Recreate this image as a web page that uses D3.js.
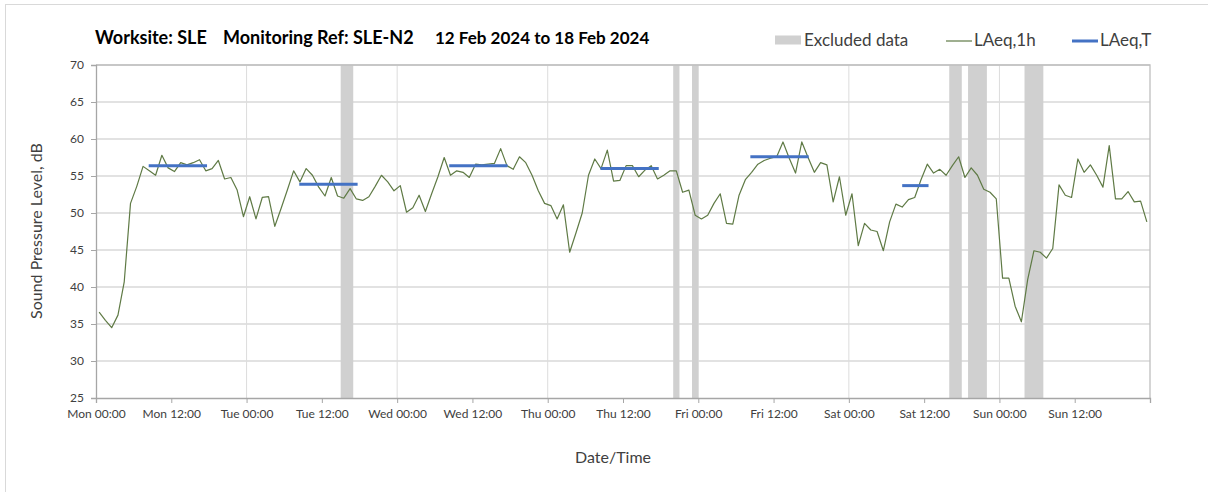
<!DOCTYPE html>
<html>
<head>
<meta charset="utf-8">
<script src="https://cdn.jsdelivr.net/npm/d3@7"></script>
<style>
	body { margin: 0; background: #fff; }
	svg text { font-family: Lato, "Open Sans", sans-serif; }
</style>
</head>
<body>
<svg id="chart" width="1208" height="492"></svg>
<script>
"use strict";

// hourly LAeq,1h values, Mon 00:00 .. Sun 23:00 (each plotted mid-hour)
var laeq1h = [
	36.6, 35.5, 34.5, 36.2, 40.7, 51.3, 53.6, 56.3, 55.7, 55.1, 57.8, 56.1,
	55.6, 56.8, 56.5, 56.8, 57.2, 55.7, 56.0, 57.1, 54.6, 54.8, 53.1, 49.5,
	52.2, 49.2, 52.1, 52.2, 48.2, 50.6, 53.1, 55.7, 54.2, 56.0, 55.1, 53.5,
	52.3, 54.8, 52.3, 52.0, 53.3, 51.9, 51.7, 52.2, 53.6, 55.1, 54.2, 53.0,
	53.7, 50.1, 50.7, 52.4, 50.2, 52.6, 54.9, 57.5, 55.1, 55.7, 55.5, 54.8,
	56.6, 56.5, 56.6, 56.7, 58.7, 56.4, 55.9, 57.6, 56.8, 55.1, 53.0, 51.3,
	51.0, 49.2, 51.1, 44.7, 47.3, 50.0, 55.1, 57.3, 56.0, 58.5, 54.3, 54.4,
	56.4, 56.4, 54.9, 55.8, 56.4, 54.6, 55.1, 55.7, 55.7, 52.8, 53.1, 49.7,
	49.2, 49.7, 51.3, 52.6, 48.6, 48.5, 52.4, 54.5, 55.5, 56.6, 57.1, 57.4,
	57.6, 59.6, 57.4, 55.4, 59.6, 57.5, 55.5, 56.8, 56.5, 51.5, 54.9, 49.7,
	52.6, 45.6, 48.6, 47.7, 47.5, 44.9, 48.8, 51.2, 50.8, 51.8, 52.1, 54.5,
	56.6, 55.4, 55.9, 55.1, 56.4, 57.6, 54.8, 56.1, 55.1, 53.2, 52.8, 51.9,
	41.2, 41.2, 37.4, 35.3, 41.0, 44.9, 44.7, 43.9, 45.2, 53.8, 52.4, 52.1,
	57.3, 55.5, 56.5, 55.1, 53.5, 59.1, 51.9, 51.9, 52.9, 51.5, 51.6, 48.8
];

// LAeq,T daytime periods: start hour, end hour, level
var periodStart = [8.4, 32.4, 56.3, 80.4, 104.3, 128.5];
var periodEnd = [17.7, 41.7, 65.6, 89.7, 113.6, 132.7];
var periodLevel = [56.4, 53.9, 56.4, 56.0, 57.6, 53.7];

// excluded data windows (hours from Mon 00:00)
var excludedStart = [39, 92, 95, 136, 139, 148];
var excludedEnd = [41, 93, 96, 138, 142, 151];

var xTickLabels = [
	"Mon 00:00", "Mon 12:00", "Tue 00:00", "Tue 12:00", "Wed 00:00", "Wed 12:00",
	"Thu 00:00", "Thu 12:00", "Fri 00:00", "Fri 12:00", "Sat 00:00", "Sat 12:00",
	"Sun 00:00", "Sun 12:00"
];
var yTicks = [25, 30, 35, 40, 45, 50, 55, 60, 65, 70];

var svg = d3.select("#chart");

// outer frame
svg.append("rect")
	.attr("x", 5.5).attr("y", 4.5)
	.attr("width", 1210).attr("height", 500)
	.attr("fill", "none")
	.attr("stroke", "#d9d9d9");

var x = d3.scaleLinear().domain([0, 168]).range([96, 1150]);
var y = d3.scaleLinear().domain([25, 70]).range([398, 65]);

// horizontal gridlines
svg.append("g").selectAll("line")
	.data(yTicks.slice(1))
	.join("line")
	.attr("x1", x(0)).attr("x2", x(168))
	.attr("y1", d => y(d)).attr("y2", d => y(d))
	.attr("stroke", "#d9d9d9")
	.attr("stroke-width", 1.3);

// vertical day gridlines
svg.append("g").selectAll("line")
	.data([24, 48, 72, 96, 120, 144])
	.join("line")
	.attr("x1", d => x(d)).attr("x2", d => x(d))
	.attr("y1", y(70)).attr("y2", y(25))
	.attr("stroke", "#dcdcdc")
	.attr("stroke-width", 1);

// excluded data bands
svg.append("g").selectAll("rect")
	.data(excludedStart.map((s, i) => [s, excludedEnd[i]]))
	.join("rect")
	.attr("x", d => x(d[0]))
	.attr("width", d => x(d[1]) - x(d[0]))
	.attr("y", y(70))
	.attr("height", y(25) - y(70))
	.attr("fill", "#d0d0d0");

// plot border (top / right)
svg.append("path")
	.attr("d", `M${x(0)},${y(70)}H${x(168)}V${y(25)}`)
	.attr("fill", "none")
	.attr("stroke", "#bfbfbf")
	.attr("stroke-width", 1.3);

// y axis
var yAxis = svg.append("g")
	.attr("transform", `translate(${x(0)},0)`)
	.call(d3.axisLeft(y).tickValues(yTicks).tickSize(5).tickPadding(7));
yAxis.select(".domain").attr("stroke", "#a6a6a6").attr("stroke-width", 1.3);
yAxis.selectAll(".tick line").attr("stroke", "#a6a6a6");
yAxis.selectAll(".tick text")
	.attr("fill", "#404040")
	.style("font-size", "12px");

// x axis
var xAxis = svg.append("g")
	.attr("transform", `translate(0,${y(25)})`)
	.call(d3.axisBottom(x)
		.tickValues(d3.range(0, 169, 12))
		.tickSize(5)
		.tickPadding(6)
		.tickFormat(d => xTickLabels[d / 12] || ""));
xAxis.select(".domain").attr("stroke", "#a6a6a6").attr("stroke-width", 1.3);
xAxis.selectAll(".tick line").attr("stroke", "#a6a6a6");
xAxis.selectAll(".tick text")
	.attr("fill", "#404040")
	.style("font-size", "12px");

// LAeq,1h line
var line = d3.line()
	.x((d, i) => x(i + 0.5))
	.y(d => y(d));
svg.append("path")
	.datum(laeq1h)
	.attr("d", line)
	.attr("fill", "none")
	.attr("stroke", "#5f7a45")
	.attr("stroke-width", 1.2)
	.attr("stroke-linejoin", "round");

// LAeq,T period lines
svg.append("g").selectAll("line")
	.data(periodStart.map((s, i) => [s, periodEnd[i], periodLevel[i]]))
	.join("line")
	.attr("x1", d => x(d[0])).attr("x2", d => x(d[1]))
	.attr("y1", d => y(d[2])).attr("y2", d => y(d[2]))
	.attr("stroke", "#4472c4")
	.attr("stroke-width", 3);

// title
var title = svg.append("g")
	.style("font-size", "18px")
	.style("font-weight", "bold")
	.attr("fill", "#000");
title.append("text").attr("x", 95).attr("y", 44).text("Worksite: SLE");
title.append("text").attr("x", 223).attr("y", 44).text("Monitoring Ref: SLE-N2");
title.append("text").attr("x", 435).attr("y", 44)
	.style("font-size", "17px")
	.text("12 Feb 2024 to 18 Feb 2024");

// legend
var legend = svg.append("g").style("font-size", "17px").attr("fill", "#404040");
legend.append("rect")
	.attr("x", 775).attr("y", 35.5).attr("width", 26).attr("height", 9)
	.attr("fill", "#d0d0d0");
legend.append("text").attr("x", 804).attr("y", 46).text("Excluded data");
legend.append("line")
	.attr("x1", 946).attr("x2", 972).attr("y1", 41).attr("y2", 41)
	.attr("stroke", "#5f7a45").attr("stroke-width", 1.2);
legend.append("text").attr("x", 974).attr("y", 46).text("LAeq,1h");
legend.append("line")
	.attr("x1", 1072).attr("x2", 1098).attr("y1", 41).attr("y2", 41)
	.attr("stroke", "#4472c4").attr("stroke-width", 3);
legend.append("text").attr("x", 1100).attr("y", 46).text("LAeq,T");

// axis titles
svg.append("text")
	.attr("transform", "translate(42,231) rotate(-90)")
	.attr("text-anchor", "middle")
	.attr("fill", "#404040")
	.style("font-size", "16px")
	.text("Sound Pressure Level, dB");
svg.append("text")
	.attr("x", 613).attr("y", 463)
	.attr("text-anchor", "middle")
	.attr("fill", "#404040")
	.style("font-size", "16px")
	.text("Date/Time");
</script>
</body>
</html>
